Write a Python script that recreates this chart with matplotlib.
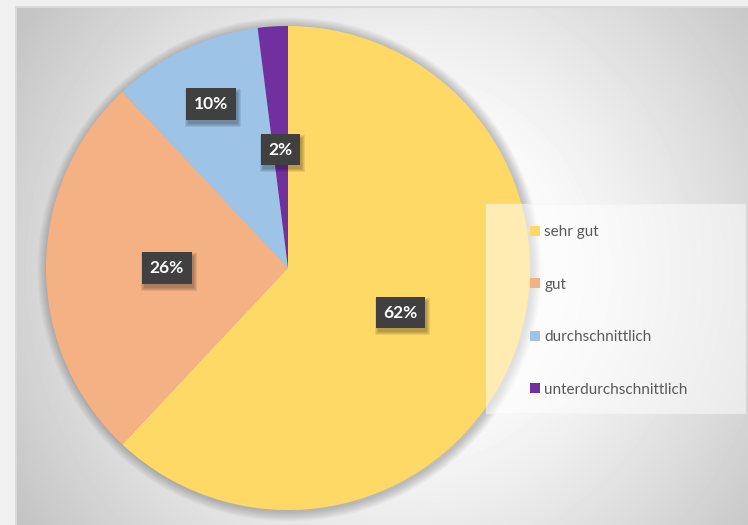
import numpy as np
import matplotlib
matplotlib.use('Agg')
from matplotlib import pyplot as plt
from matplotlib.patches import Circle, Rectangle, Patch

# data
categories = ['sehr gut', 'gut', 'durchschnittlich', 'unterdurchschnittlich']
values = [62, 26, 10, 2]
labels = ['62%', '26%', '10%', '2%']
colors = ['#FFD966', '#F4B183', '#9DC3E6', '#7030A0']
label_r = [0.5, 0.5, 0.75, 0.49]

plt.rcParams['font.family'] = ['Lato', 'DejaVu Sans']

W, H = 748, 525
fig = plt.figure(figsize=(W / 100, H / 100), dpi=100, facecolor='#f0f0f0')

# chart area with radial gradient
bx, by = 16, 7
bg = fig.add_axes([bx / W, 0, 1 - bx / W, 1 - by / H])
yy, xx = np.mgrid[by:H, bx:W]
d = np.sqrt((xx - 400) ** 2 + (yy - 270) ** 2)
shade = 0.98 - 0.21 * np.clip((d - 150) / 300, 0, 1) ** 1.2
bg.imshow(shade, cmap='gray', vmin=0, vmax=1, aspect='auto',
          extent=[0, 1, 0, 1], origin='upper')
bg.set_xlim(0, 1)
bg.set_ylim(0, 1)
bg.axis('off')
fig.add_artist(plt.Line2D([bx / W, bx / W], [0, 1 - by / H], color='#d9d9d9', lw=1.5))
fig.add_artist(plt.Line2D([bx / W, 1], [1 - by / H, 1 - by / H], color='#d9d9d9', lw=1.5))

# pie
cx, cy, R, S = 288, 268, 242, 262
ax = fig.add_axes([(cx - S) / W, (H - cy - S) / H, 2 * S / W, 2 * S / H])
for k in range(1, 11):
    ax.add_patch(Circle((1.5, -1.5), R + k, color='black', alpha=0.025, lw=0, zorder=0))
wedges, _ = ax.pie(values, colors=colors, radius=R, startangle=90, counterclock=False,
                   wedgeprops=dict(linewidth=0), center=(0, 0), frame=True)
ax.set_xlim(-S, S)
ax.set_ylim(-S, S)
ax.axis('off')

texts = []
for w, lab, rf in zip(wedges, labels, label_r):
    ang = np.deg2rad((w.theta1 + w.theta2) / 2)
    x, y = rf * R * np.cos(ang), rf * R * np.sin(ang)
    t = ax.text(x, y, lab, ha='center', va='center', fontsize=12.5, fontweight='bold',
                color='white', zorder=5,
                bbox=dict(boxstyle='square,pad=0.45', facecolor='#404040', lw=0))
    texts.append(t)

# soft shadow behind the label boxes
fig.canvas.draw()
for t in texts:
    bb = t.get_bbox_patch().get_window_extent()
    for k in range(4):
        fig.add_artist(Rectangle(((bb.x0 + 2 - k) / W, (bb.y0 - 4 - k) / H),
                                 (bb.width + 2 * k) / W, (bb.height + 2 * k) / H,
                                 transform=fig.transFigure, facecolor='black',
                                 alpha=0.08, lw=0, zorder=3))
    t.set_zorder(10)
    t.remove()
    fig.add_artist(t)
    t.set_transform(ax.transData)

# legend
fig.add_artist(Rectangle((486 / W, (H - 413) / H), (745 - 486) / W, (413 - 204) / H,
                         transform=fig.transFigure, facecolor='white', alpha=0.5,
                         edgecolor='#f4f4f4', lw=1))
handles = [Patch(facecolor=c, edgecolor='none') for c in colors]
fig.legend(handles, categories, loc='center left', bbox_to_anchor=(522 / W, (H - 311) / H),
           frameon=False, borderpad=0, fontsize=11, labelspacing=2.52,
           handlelength=0.65, handleheight=0.65, handletextpad=0.3, labelcolor='#595959')

fig.savefig('out.png', dpi=100, facecolor=fig.get_facecolor())
